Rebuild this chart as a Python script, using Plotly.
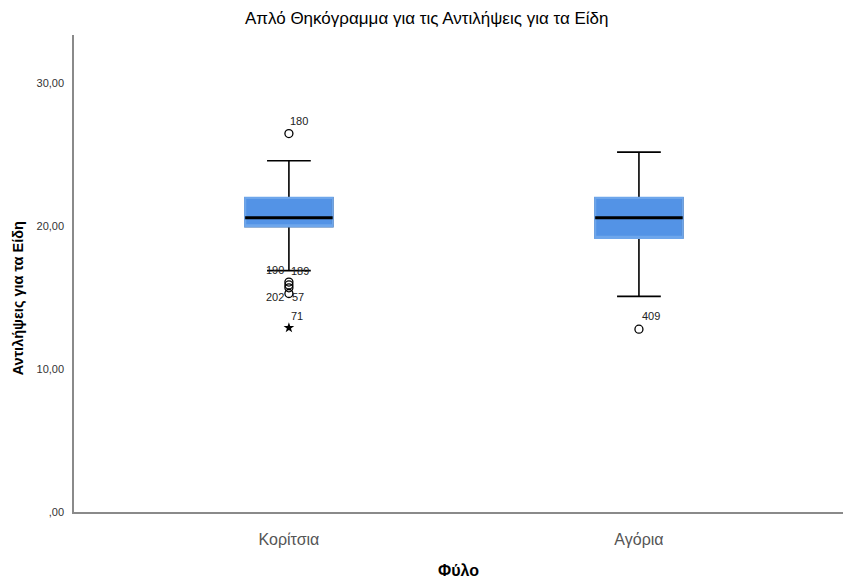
import plotly.graph_objects as go

# Summary statistics per group (Tukey boxplot)
groups = ["Κορίτσια", "Αγόρια"]
q1 = [20.0, 19.2]
median = [20.6, 20.6]
q3 = [22.0, 22.0]
lower_whisker = [16.9, 15.1]
upper_whisker = [24.6, 25.2]

# Mild outliers (circles) with their case numbers
outlier_group = [0, 0, 0, 0, 0, 1]
outlier_value = [26.5, 16.1, 15.9, 15.7, 15.3, 12.8]
outlier_case = ["180", "190", "189", "202", "57", "409"]

# Extreme values (stars)
extreme_group = [0]
extreme_value = [12.9]
extreme_case = ["71"]

y_ticks = [0, 10, 20, 30]
y_ticktext = [",00", "10,00", "20,00", "30,00"]

BOX_FILL = "#5393e6"
BOX_EDGE = "#6ea6eb"
BOX_W = 0.25

# pixel offsets of the case labels next to their points
label_shift = {
    "180": (10, 13), "190": (-14, 12), "189": (11, 14),
    "202": (-14, -9), "57": (9, -4), "71": (8, 12), "409": (12, 13),
}

xs = list(range(len(groups)))
fig = go.Figure()

# whiskers, caps and body
fig.add_trace(go.Box(
    x=xs, q1=q1, median=median, q3=q3,
    lowerfence=lower_whisker, upperfence=upper_whisker,
    orientation="v", width=BOX_W, whiskerwidth=0.5,
    fillcolor=BOX_FILL, line=dict(color="black", width=1.6),
    boxpoints=False, hoverinfo="skip", showlegend=False,
))
# light edge around the body
fig.add_trace(go.Box(
    x=xs, q1=q1, median=q1, q3=q3, lowerfence=q1, upperfence=q3,
    orientation="v", width=BOX_W, whiskerwidth=0,
    fillcolor="rgba(0,0,0,0)", line=dict(color=BOX_EDGE, width=2.2),
    boxpoints=False, hoverinfo="skip", showlegend=False,
))
# thick median line
fig.add_trace(go.Box(
    x=xs, q1=median, median=median, q3=median,
    lowerfence=median, upperfence=median,
    orientation="v", width=BOX_W, whiskerwidth=0,
    fillcolor="rgba(0,0,0,0)", line=dict(color="black", width=3),
    boxpoints=False, hoverinfo="skip", showlegend=False,
))

fig.add_trace(go.Scatter(
    x=outlier_group, y=outlier_value, mode="markers",
    marker=dict(symbol="circle-open", size=8, color="black",
                line=dict(color="black", width=1.3)),
    hoverinfo="skip", showlegend=False,
))
fig.add_trace(go.Scatter(
    x=extreme_group, y=extreme_value, mode="markers",
    marker=dict(symbol="star", size=8, color="black",
                line=dict(width=0)),
    hoverinfo="skip", showlegend=False,
))

for g, v, c in zip(outlier_group + extreme_group,
                   outlier_value + extreme_value,
                   outlier_case + extreme_case):
    dx, dy = label_shift[c]
    fig.add_annotation(
        x=g, y=v, xref="x", yref="y", text=c, showarrow=False,
        xshift=dx, yshift=dy,
        font=dict(family="Liberation Sans, Arial, sans-serif", size=11, color="#222222"),
    )

# vertical axis title
fig.add_annotation(
    text="<b>Αντιλήψεις για τα Είδη</b>", textangle=-90,
    xref="paper", yref="paper", x=-0.073, y=0.5, yshift=-25,
    xanchor="center", yanchor="middle", showarrow=False,
    font=dict(family="Liberation Sans, Arial, sans-serif", size=14.5, color="black"),
)

fig.update_layout(
    width=845, height=579,
    margin=dict(l=74, r=2, t=35, b=64),
    paper_bgcolor="white", plot_bgcolor="white",
    boxmode="overlay",
    title=dict(
        text="Απλό Θηκόγραμμα για τις Αντιλήψεις για τα Είδη",
        x=0.505, xanchor="center", y=0.968, yanchor="middle",
        font=dict(family="Liberation Sans, Arial, sans-serif", size=17, color="black"),
    ),
    font=dict(family="Liberation Sans, Arial, sans-serif"),
)

fig.update_xaxes(
    range=[-0.614, 1.583], tickvals=xs, ticktext=groups,
    showgrid=False, zeroline=False, ticks="",
    showline=True, linecolor="#8a8a8a", linewidth=1.5,
    ticklabelstandoff=12,
    tickfont=dict(family="Liberation Sans Narrow, Liberation Sans, Arial, sans-serif",
                  size=16, color="#555555"),
    title=dict(text="<b>Φύλο</b>", standoff=18,
               font=dict(family="Liberation Sans, Arial, sans-serif", size=16, color="black")),
)
fig.update_yaxes(
    range=[0, 33.4], tickvals=y_ticks, ticktext=y_ticktext,
    showgrid=False, zeroline=False, ticks="",
    showline=True, linecolor="#8a8a8a", linewidth=1.5,
    ticklabelstandoff=6,
    tickfont=dict(family="Liberation Sans, Arial, sans-serif", size=11, color="#333333"),
)

fig.write_html("out.html")
